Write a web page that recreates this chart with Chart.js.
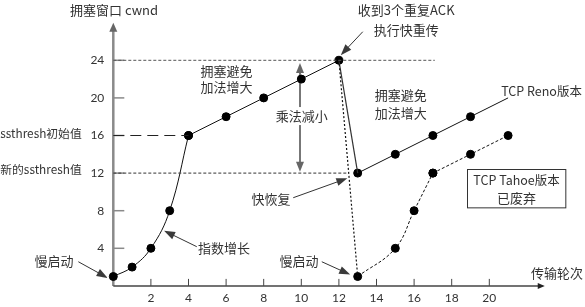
<!DOCTYPE html>
<html><head><meta charset="utf-8">
<script src="https://cdn.jsdelivr.net/npm/chart.js@4.4.1/dist/chart.umd.min.js"></script>
<style>html,body{margin:0;padding:0;background:#fff}canvas{display:block}</style>
</head><body>
<canvas id="c" width="585" height="307"></canvas>
<script>
// ---- data ----
const xTicks = [2,4,6,8,10,12,14,16,18,20];
const yTicks = [4,8,12,16,20,24];
const renoSlowX = [0,1,2,3,4],        renoSlowY = [1,2,4,8,16];
const renoAvoid1X = [4,6,8,10,12],    renoAvoid1Y = [16,18,20,22,24];
const renoDropX = [12,13],            renoDropY = [24,12];
const renoAvoid2X = [13,15,17,19,21], renoAvoid2Y = [12,14,16,18,20];
const tahoeDropX = [12,13],           tahoeDropY = [24,1];
const tahoeSlowX = [13,15,16,17],     tahoeSlowY = [1,4,8,12];
const tahoeAvoidX = [17,19,21],       tahoeAvoidY = [12,14,16];
const ssthreshInit = 16, ssthreshNew = 12, peak = 24;

const CJK = '"Noto Sans CJK SC", sans-serif';
const pts = (xs, ys) => xs.map((x, i) => ({x, y: ys[i]}));

function lineDs(xs, ys, o) {
  return Object.assign({
    data: pts(xs, ys), borderColor: '#111', borderWidth: 1, tension: 0,
    pointRadius: 4, pointBackgroundColor: '#000', pointBorderColor: '#000',
    pointBorderWidth: 1, clip: false, fill: false
  }, o);
}

const datasets = [
  lineDs([0, 17.1], [peak, peak], {borderColor: '#555', borderDash: [3, 2], pointRadius: 0}),
  lineDs([0, 4], [ssthreshInit, ssthreshInit], {borderColor: '#222', borderWidth: 1.2, borderDash: [11, 6], pointRadius: 0}),
  lineDs([0, 12.5], [ssthreshNew, ssthreshNew], {borderColor: '#333', borderDash: [3, 2], pointRadius: 0}),
  lineDs(tahoeDropX, tahoeDropY, {borderDash: [2, 2], borderWidth: 1.2, pointRadius: 0}),
  lineDs(renoDropX, renoDropY, {borderColor: '#333', borderWidth: 1.2, pointRadius: 0}),
  lineDs(renoSlowX, renoSlowY, {tension: 0.4}),
  lineDs(renoAvoid1X, renoAvoid1Y, {}),
  lineDs(renoAvoid2X, renoAvoid2Y, {pointRadius: [4,4,4,4,0], pointBorderWidth: [1,1,1,1,0]}),
  lineDs(tahoeSlowX, tahoeSlowY, {tension: 0.4, borderDash: [3, 2]}),
  lineDs(tahoeAvoidX, tahoeAvoidY, {borderDash: [3, 2]})
];

function arrowHead(ctx, x1, y1, x2, y2, len, wid, color) {
  const a = Math.atan2(y2 - y1, x2 - x1);
  ctx.save();
  ctx.fillStyle = color;
  ctx.translate(x2, y2); ctx.rotate(a);
  ctx.beginPath(); ctx.moveTo(0, 0); ctx.lineTo(-len, -wid / 2); ctx.lineTo(-len, wid / 2); ctx.closePath();
  ctx.fill();
  ctx.restore();
}

function textAt(ctx, t, px, py, align, size) {
  ctx.font = (size || 13) + 'px ' + CJK;
  ctx.fillStyle = '#333'; ctx.textAlign = align || 'center'; ctx.textBaseline = 'middle';
  ctx.fillText(t, px, py);
}

const deco = {
  id: 'deco',
  beforeDatasetsDraw(chart) {
    const ctx = chart.ctx, xs = chart.scales.x, ys = chart.scales.y;
    const X = v => xs.getPixelForValue(v), Y = v => ys.getPixelForValue(v);
    ctx.save();
    // y axis
    ctx.strokeStyle = '#8a8a8a'; ctx.lineWidth = 2.5;
    ctx.beginPath(); ctx.moveTo(X(0), Y(0)); ctx.lineTo(X(0), Y(27.3)); ctx.stroke();
    arrowHead(ctx, X(0), Y(0), X(0), Y(28), 9, 8, '#666');
    ctx.lineWidth = 1.5;
    yTicks.forEach(v => { ctx.beginPath(); ctx.moveTo(X(0), Y(v)); ctx.lineTo(X(0) + 11, Y(v)); ctx.stroke(); });
    // x axis
    ctx.strokeStyle = '#444'; ctx.lineWidth = 1.5;
    ctx.beginPath(); ctx.moveTo(X(0), Y(0)); ctx.lineTo(X(22.6), Y(0)); ctx.stroke();
    arrowHead(ctx, X(0), Y(0), X(22.95), Y(0), 7, 6, '#222');
    ctx.lineWidth = 1;
    xTicks.forEach(v => { ctx.beginPath(); ctx.moveTo(X(v), Y(0)); ctx.lineTo(X(v), Y(0) - 7); ctx.stroke(); });
    // 乘法减小 double arrow
    ctx.strokeStyle = '#777'; ctx.lineWidth = 2;
    ctx.beginPath(); ctx.moveTo(X(9.93), Y(13)); ctx.lineTo(X(9.93), Y(22.9)); ctx.stroke();
    arrowHead(ctx, X(9.93), Y(12.5), X(9.93), Y(23.7), 10, 8, '#666');
    arrowHead(ctx, X(9.93), Y(23), X(9.93), Y(12.15), 10, 8, '#666');
    ctx.fillStyle = '#fff';
    ctx.fillRect(X(9.93) - 27, Y(18.07) - 9, 54, 18);
    textAt(ctx, '乘法减小', X(10.02), Y(18.07));
    ctx.restore();
  },
  afterDatasetsDraw(chart) {
    const ctx = chart.ctx, xs = chart.scales.x, ys = chart.scales.y;
    const X = v => xs.getPixelForValue(v), Y = v => ys.getPixelForValue(v);
    ctx.save();
    const text = (t, x, y, align, size) => textAt(ctx, t, X(x), Y(y), align, size);
    const arrow = (x1, y1, x2, y2) => {
      ctx.strokeStyle = '#333'; ctx.lineWidth = 1;
      const px1 = X(x1), py1 = Y(y1), px2 = X(x2), py2 = Y(y2);
      const a = Math.atan2(py2 - py1, px2 - px1);
      ctx.beginPath(); ctx.moveTo(px1, py1); ctx.lineTo(px2 - 8 * Math.cos(a), py2 - 8 * Math.sin(a)); ctx.stroke();
      arrowHead(ctx, px1, py1, px2, py2, 11, 8, '#3a3a3a');
    };
    text('拥塞窗口 cwnd', 0.04, 29.35);
    text('收到3个重复ACK', 15.58, 29.36);
    text('执行快重传', 15.58, 27.23);
    arrow(13.27, 27.04, 12.1, 24.55);
    text('拥塞避免', 6.02, 22.86);
    text('加法增大', 6.02, 21.16);
    text('拥塞避免', 15.29, 20.31);
    text('加法增大', 15.29, 18.39);
    text('TCP Reno版本', 22.78, 20.66, 'center', 12.5);
    // Tahoe box
    ctx.strokeStyle = '#333'; ctx.lineWidth = 1;
    ctx.strokeRect(Math.round(X(18.83)) + 0.5, Math.round(Y(12.4)) + 0.5, X(24.06) - X(18.83), Y(8.32) - Y(12.4));
    text('TCP Tahoe版本', 21.45, 11.27, 'center', 12.5);
    text('已废弃', 21.45, 9.38);
    text('ssthresh初始值', -1.68, 16.23, 'right', 11.8);
    text('新的ssthresh值', -1.68, 12.33, 'right', 11.8);
    text('快恢复', 8.39, 9.21);
    arrow(9.57, 9.38, 12.45, 11.45);
    text('指数增长', 5.89, 4.0);
    arrow(4.44, 4.17, 2.7, 5.87);
    text('慢启动', -3.15, 2.65);
    arrow(-1.86, 2.57, -0.3, 0.85);
    text('慢启动', 9.88, 2.65);
    arrow(11.09, 2.57, 12.6, 1.2);
    text('传输轮次', 23.6, 1.4);
    ctx.restore();
  }
};

new Chart(document.getElementById('c'), {
  type: 'line',
  data: {datasets},
  options: {
    responsive: false, animation: false, devicePixelRatio: 1,
    layout: {padding: {top: 22.7, right: 39.3, left: 0, bottom: 0}},
    plugins: {legend: {display: false}, tooltip: {enabled: false}},
    scales: {
      x: {
        type: 'linear', min: 0, max: 23,
        afterBuildTicks: s => { s.ticks = xTicks.map(v => ({value: v})); },
        afterFit: s => { s.height = 21.1; },
        grid: {display: false, drawTicks: false}, border: {display: false},
        ticks: {padding: 5, font: {family: 'Lato', size: 12}, color: '#333', maxRotation: 0, autoSkip: false}
      },
      y: {
        type: 'linear', min: 0, max: 28,
        afterBuildTicks: s => { s.ticks = yTicks.map(v => ({value: v})); },
        afterFit: s => { s.width = 113.3; },
        grid: {display: false, drawTicks: false}, border: {display: false},
        ticks: {padding: 9, font: {family: 'Lato', size: 12}, color: '#333', autoSkip: false}
      }
    }
  },
  plugins: [deco]
});
</script>
</body></html>
